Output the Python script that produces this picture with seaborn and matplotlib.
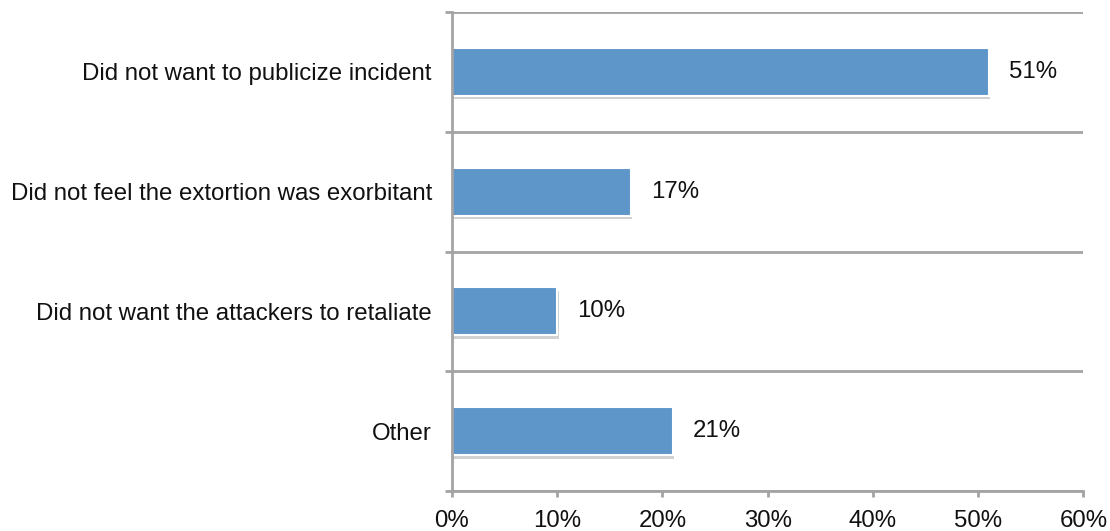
import matplotlib
matplotlib.use("Agg")
import matplotlib.pyplot as plt
import matplotlib.patheffects as pe
import seaborn as sns
import pandas as pd
import numpy as np

categories = [
    "Did not want to publicize incident",
    "Did not feel the extortion was exorbitant",
    "Did not want the attackers to retaliate",
    "Other",
]
values = [51, 17, 10, 21]
xticks = [0, 10, 20, 30, 40, 50, 60]
xtick_labels = ["0%", "10%", "20%", "30%", "40%", "50%", "60%"]

df = pd.DataFrame({"reason": categories, "pct": values})

sns.set_theme(style="white")
plt.rcParams["font.family"] = ["Liberation Sans", "DejaVu Sans"]

grey = "#A3A3A3"
bar_color = "#5F96C9"
text_color = "#111111"
fs = 17.3

fig = plt.figure(figsize=(11.1, 5.31), dpi=100)
ax = fig.add_axes([0.4072, 0.0753, 0.9761 - 0.4072, 0.9774 - 0.0753])

sns.barplot(data=df, y="reason", x="pct", orient="h", color=bar_color,
            width=0.4, saturation=1, ax=ax, edgecolor="white", linewidth=1.5)

for patch in ax.patches:
    patch.set_path_effects([
        pe.SimplePatchShadow(offset=(1.0, -2.5), shadow_rgbFace="#000000", alpha=0.18),
        pe.Normal(),
    ])

labels = ax.bar_label(ax.containers[0], labels=[f"{v}%" for v in values],
                      padding=14.5, fontsize=fs, color=text_color)
for t in labels:
    t.set_verticalalignment("center")

ax.set_xlim(0, 60)
ax.set_ylim(3.5, -0.5)
ax.set_xticks(xticks)
ax.set_xticklabels(xtick_labels, fontsize=fs, color=text_color)
ax.set_xlabel("")
ax.set_ylabel("")

# category separators as minor grid lines
ax.set_yticks(np.arange(-0.5, 3.6, 1.0), minor=True)
ax.grid(axis="y", which="minor", color=grey, linewidth=2)
ax.grid(axis="y", which="major", visible=False)
ax.grid(axis="x", visible=False)

ax.tick_params(axis="y", which="major", length=0, pad=14.5, labelsize=fs, labelcolor=text_color)
ax.tick_params(axis="y", which="minor", length=5, width=2, color=grey, direction="out", left=True)
ax.tick_params(axis="x", which="major", length=4.3, width=2, color=grey, direction="out",
               bottom=True, pad=9.5)

for side in ("top", "right"):
    ax.spines[side].set_visible(False)
for side in ("left", "bottom"):
    ax.spines[side].set_color(grey)
    ax.spines[side].set_linewidth(2)

fig.savefig("out.png", dpi=100)
